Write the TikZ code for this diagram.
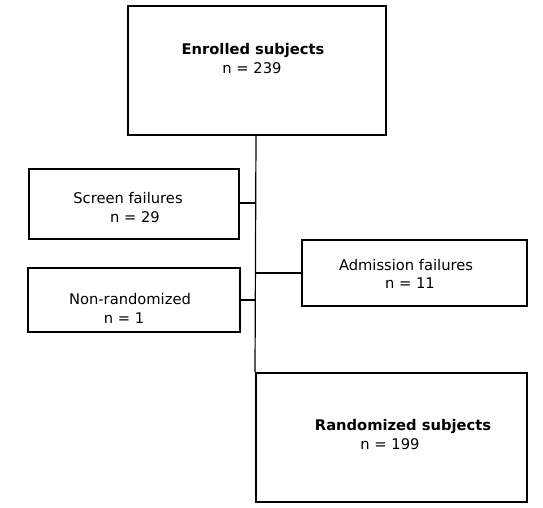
\documentclass[tikz,border=0pt]{standalone}
\usepackage{fontspec}
\setmainfont{DejaVu Sans}
\begin{document}
\begin{tikzpicture}[x=1pt,y=-1pt,
  boxstyle/.style={draw=black,line width=2pt,fill=white,inner sep=0pt},
  linkstyle/.style={draw=black,line width=1.2pt},
  txt/.style={inner sep=0pt,font=\fontsize{14.7}{17}\selectfont},
  btxt/.style={inner sep=0pt,font=\fontsize{14.7}{17}\selectfont\bfseries}]
\useasboundingbox (0,0) rectangle (543,507);
% boxes
\node[boxstyle,minimum width=258pt,minimum height=129pt] (enr) at (257,70.5) {};
\node[boxstyle,minimum width=210pt,minimum height=70pt] (scr) at (134,204) {};
\node[boxstyle,minimum width=212pt,minimum height=64pt] (non) at (134,300) {};
\node[boxstyle,minimum width=225pt,minimum height=66pt] (adm) at (414.5,273) {};
\node[boxstyle,minimum width=271pt,minimum height=129pt] (ran) at (391.5,437.5) {};
% connector junctions
\coordinate (top) at (enr.south -| 256,0);
\coordinate (bot) at (ran.north west);
\coordinate (j1) at (256,203);
\coordinate (j2) at (256,273);
\coordinate (j3) at (256,300);
\draw[linkstyle] (top) -- (bot);
\draw[linkstyle] (scr.east |- j1) -- (j1);
\draw[linkstyle] (j2) -- (adm.west |- j2);
\draw[linkstyle] (non.east |- j3) -- (j3);
% texts
\node[btxt] (enr1) at (253,50) {Enrolled subjects};
\node[txt] (enr2) at (252,68) {n = 239};
\node[txt] (scr1) at (128,198) {Screen failures};
\node[txt] (scr2) at (135,217) {n = 29};
\node[txt] (non1) at (130,299) {Non-randomized};
\node[txt] (non2) at (124,318) {n = 1};
\node[txt] (adm1) at (406,265) {Admission failures};
\node[txt] (adm2) at (410,283) {n = 11};
\node[btxt] (ran1) at (403,426) {Randomized subjects};
\node[txt] (ran2) at (390,444) {n = 199};
\end{tikzpicture}
\end{document}
